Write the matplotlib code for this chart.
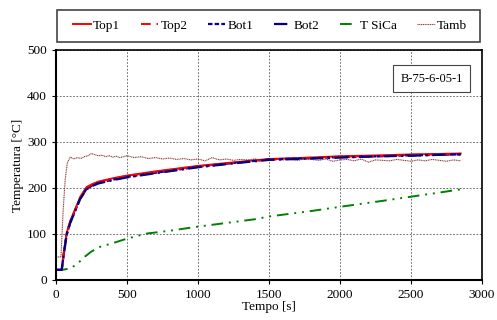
import matplotlib
matplotlib.use('Agg')
import matplotlib.pyplot as plt
from matplotlib.patches import Rectangle

plt.rcParams['font.family'] = ['Liberation Serif', 'DejaVu Serif']
plt.rcParams['font.size'] = 9.5

# Tempos e temperaturas
t_top = [0, 40, 55, 75, 100, 134, 170, 215, 260, 300, 400, 500, 700, 1000, 1300, 1500, 1800, 2000, 2300, 2500, 2700, 2850]
top1 = [22, 22, 60, 102, 128, 153, 180, 202, 209, 214, 221, 227, 236, 248, 257, 263, 266, 269, 271, 273, 274, 275]
top2 = [22, 22, 59, 101, 127, 152, 179, 201, 208, 213, 220, 226, 235, 247, 256, 262, 266, 268, 270, 272, 273, 274]
bot1 = [22, 22, 57, 99, 125, 150, 177, 198, 206, 211, 218, 224, 233, 246, 256, 262, 265, 267, 269, 271, 272, 273]
bot2 = [22, 22, 56, 98, 124, 149, 176, 197, 205, 210, 217, 223, 232, 245, 255, 261, 264, 266, 269, 270, 272, 273]

t_sic = [0, 40, 100, 150, 200, 250, 310, 400, 500, 640, 800, 1000, 1200, 1400, 1500, 1800, 2000, 2300, 2500, 2700, 2850]
sic = [22, 22, 25, 35, 50, 62, 72, 80, 90, 101, 107, 116, 124, 132, 138, 150, 159, 172, 181, 190, 197]

t_amb = [0, 35, 50, 65, 80, 100, 125, 150, 175, 200, 225, 250, 275, 300, 325, 350, 375, 400, 425, 450,
         475, 500, 550, 600, 650, 700, 750, 800, 850, 900, 950, 1000, 1050, 1100, 1150, 1200, 1250,
         1300, 1350, 1400, 1450, 1500, 1550, 1600, 1650, 1700, 1750, 1800, 1850, 1900, 1950, 2000,
         2050, 2100, 2150, 2200, 2250, 2300, 2350, 2400, 2450, 2500, 2550, 2600, 2650, 2700, 2750, 2800, 2850]
tamb = [50, 50, 150, 220, 255, 267, 263, 266, 264, 268, 270, 275, 272, 270, 271, 268, 270, 267, 269, 266,
        268, 270, 266, 268, 264, 266, 263, 265, 262, 264, 261, 263, 259, 266, 261, 263, 260,
        262, 261, 263, 260, 262, 263, 261, 262, 260, 263, 262, 260, 263, 258, 261,
        262, 259, 263, 256, 261, 260, 259, 262, 260, 258, 261, 259, 262, 260, 258, 261, 259]

fig = plt.figure(figsize=(4.97, 3.2), dpi=100)
ax = fig.add_axes([0.1127, 0.125, 0.857, 0.719])

ax.plot(t_sic, sic, color='#008000', lw=1.4, ls=(0, (6, 3, 1, 3, 1, 3)), label='T SiCa')
ax.plot(t_amb, tamb, color='#8b3a3a', lw=0.8, ls=(0, (1, 0.6)), label='Tamb')
ax.plot(t_top, top1, color='red', lw=1.4, ls='-', label='Top1')
ax.plot(t_top, bot1, color='#0000a0', lw=1.6, ls=(0, (2, 1)), label='Bot1')
ax.plot(t_top, top2, color='red', lw=1.4, ls=(0, (5, 3)), label='Top2')
ax.plot(t_top, bot2, color='#000080', lw=1.6, ls=(0, (6, 2, 1, 2)), label='Bot2')

ax.set_xlim(0, 3000)
ax.set_ylim(0, 500)
ax.set_xticks(range(0, 3001, 500))
ax.set_yticks(range(0, 501, 100))
ax.grid(True, color='#555555', ls=(0, (2, 2)), lw=0.6)
ax.tick_params(direction='out', length=3, width=0.8)
for s in ax.spines.values():
    s.set_color('black')
ax.spines['left'].set_linewidth(1.5)
ax.spines['bottom'].set_linewidth(1.5)
ax.spines['top'].set_linewidth(1.2)
ax.spines['right'].set_linewidth(1.2)

ax.set_xlabel('Tempo [s]', labelpad=0)
ax.set_ylabel('Temperatura [°C]', labelpad=2)

ax.text(0.955, 0.875, 'B-75-6-05-1', transform=ax.transAxes, ha='right', va='center', fontsize=9,
        bbox=dict(boxstyle='square,pad=0.6', fc='white', ec='#444444', lw=0.8))

# Legenda em caixa acima do gráfico
fig.patches.append(Rectangle((57 / 497, 1 - 42 / 320), 423 / 497, 32 / 320, transform=fig.transFigure,
                             fill=False, edgecolor='#444444', lw=1.2))
handles, labels = ax.get_legend_handles_labels()
order = ['Top1', 'Top2', 'Bot1', 'Bot2', 'T SiCa', 'Tamb']
hmap = dict(zip(labels, handles))
fig.legend([hmap[k] for k in order], order, loc='center', bbox_to_anchor=(0.544, 1 - 26 / 320), ncol=6,
           frameon=False, handlelength=1.3, handletextpad=0.2, columnspacing=1.55, fontsize=9.5)

fig.savefig('out.png', dpi=100)
